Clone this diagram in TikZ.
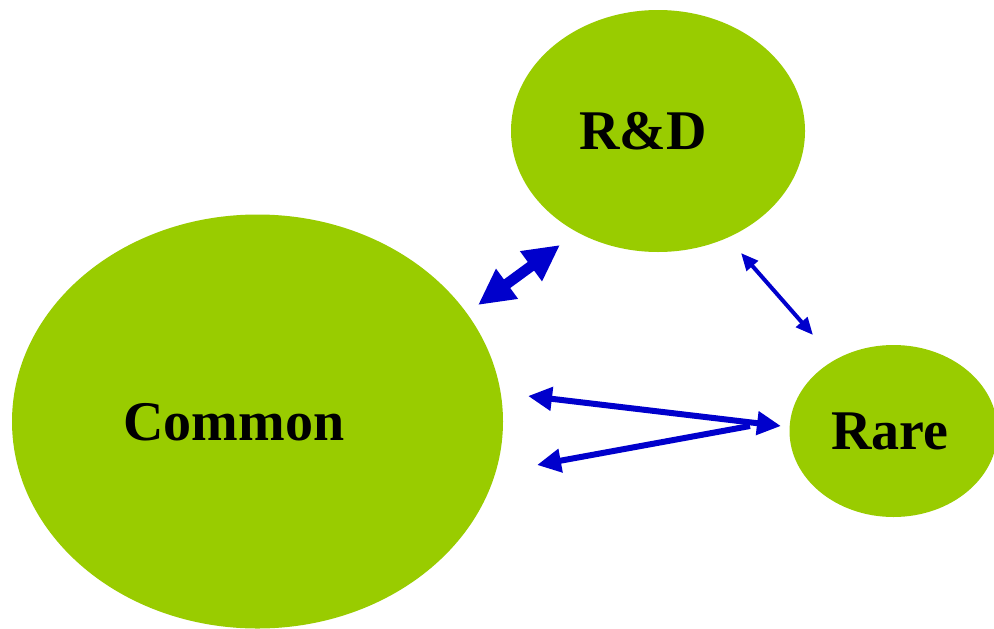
\documentclass[tikz,border=0pt]{standalone}
\usepackage{fontspec}
\setmainfont{Liberation Serif}
\usetikzlibrary{shapes.geometric,arrows.meta}
\definecolor{leaf}{HTML}{99CC00}
\definecolor{arrowblue}{HTML}{0000CC}
\tikzset{
  blob/.style={ellipse, fill=leaf, draw=none, inner sep=0pt},
  lbl/.style={font=\fontsize{42}{42}\selectfont\bfseries, text=black, inner sep=0pt},
  link/.style={draw=arrowblue, line cap=butt},
}
\begin{document}
\begin{tikzpicture}[x=0.75pt,y=-0.75pt]
\useasboundingbox (0,0) rectangle (994,628);
\fill[white] (0,0) rectangle (994,628);
% ellipses
\node[blob, minimum width=491*0.75pt, minimum height=414*0.75pt] (common) at (257.5,421.5) {};
\node[blob, minimum width=294*0.75pt, minimum height=242*0.75pt] (rd) at (658,131) {};
\node[blob, minimum width=208*0.75pt, minimum height=172*0.75pt] (rare) at (893.5,431) {};
% labels
\node[lbl] (tcommon) at (234,422) {Common};
\node[lbl] (trd) at (643,131) {R\&D};
\node[lbl] (trare) at (890,431) {Rare};
% arrow end points
\coordinate (a1) at (478,305);
\coordinate (a2) at (560,245);
\coordinate (b1) at (741,253);
\coordinate (b2) at (813,335);
\coordinate (c1) at (528,396);
\coordinate (c2) at (781,426);
\coordinate (d1) at (537,465);
\coordinate (d2) at (750,426);
% arrows
\draw[link, line width=8pt, {Triangle[length=27pt,width=26pt]}-{Triangle[length=27pt,width=26pt]}] (a1) -- (a2);
\draw[link, line width=3pt, {Triangle[length=13pt,width=11pt]}-{Triangle[length=13pt,width=11pt]}] (b1) -- (b2);
\draw[link, line width=4.5pt, {Triangle[length=18pt,width=17pt]}-{Triangle[length=18pt,width=17pt]}] (c1) -- (c2);
\draw[link, line width=4.5pt, {Triangle[length=18pt,width=17pt]}-] (d1) -- (d2);
\end{tikzpicture}
\end{document}
